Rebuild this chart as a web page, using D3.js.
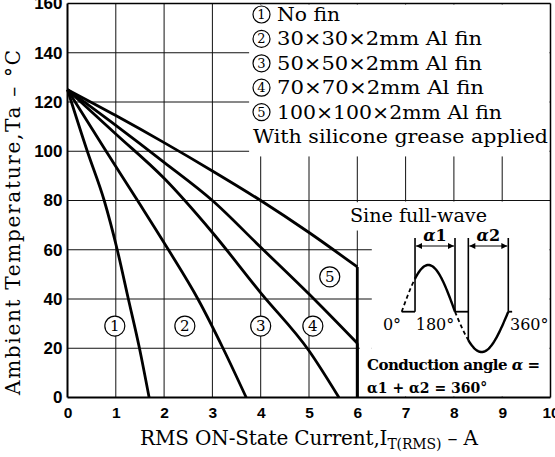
<!DOCTYPE html>
<html><head><meta charset="utf-8">
<script src="https://cdn.jsdelivr.net/npm/d3@7"></script>
<style>body{margin:0;background:#fff}svg{display:block}</style>
</head><body>
<svg id="chart" width="555" height="457"></svg>
<script>
// ---------- data ----------
const xTicks = [0,1,2,3,4,5,6,7,8,9,10];
const yTicks = [0,20,40,60,80,100,120,140,160];
const seriesIds = ["1","2","3","4","5"];
const current1 = [0,0.41,0.76,1.03,1.26,1.49,1.69];
const temp1    = [125,100,80,60,40,20,0];
const current2 = [0,0.8,1.45,2.09,2.7,3.22,3.7];
const temp2    = [125,100,80,60,40,20,0];
const current3 = [0,1,2,3,4,5,5.62];
const temp3    = [125,107,89,67,42.5,19,0];
const current4 = [0,1,2,3,4,5,6,6];
const temp4    = [125,110.5,95.5,80,61,42,22,0];
const current5 = [0,1,2,3,4,5,6,6];
const temp5    = [125,114.5,103.5,92,80,67,53,0];
const labelCurrent = [0.98,2.43,4.0,5.08,5.43];
const labelTemp    = [29,29,29,29,49];
const legendMarks = ["1","2","3","4","5",""];
const legendTexts = ["No fin","30×30×2mm Al fin","50×50×2mm Al fin","70×70×2mm Al fin","100×100×2mm Al fin","With silicone grease applied"];
const legendWidths = [63,205,205,207,225,295];

// ---------- layout ----------
const svg = d3.select("#chart");
const x = d3.scaleLinear([0,10],[67.5,550.5]);
const y = d3.scaleLinear([0,160],[397.5,3.5]);
const serif = "'DejaVu Serif',serif";

// circled-number helper
function circled(sel, cx, cy, r, fs, label){
  const gg = sel.append("g");
  gg.append("circle").attr("cx",cx).attr("cy",cy).attr("r",r).attr("fill","#fff").attr("stroke","#000").attr("stroke-width",1.2);
  gg.append("text").attr("x",cx).attr("y",cy).attr("text-anchor","middle").attr("dominant-baseline","central")
    .attr("font-family",serif).attr("font-size",fs).attr("fill","#000").text(label);
}

// grid
const g = svg.append("g");
g.selectAll(".vg").data(xTicks.slice(1,10)).join("line")
  .attr("x1",d=>x(d)).attr("x2",d=>x(d)).attr("y1",y(0)).attr("y2",y(160))
  .attr("stroke","#111").attr("stroke-width",1);
g.selectAll(".hg").data(yTicks.slice(1,8)).join("line")
  .attr("x1",x(0)).attr("x2",x(10)).attr("y1",d=>y(d)).attr("y2",d=>y(d))
  .attr("stroke","#111").attr("stroke-width",1);

// white panels (legend + inset)
svg.append("rect").attr("x",x(3.76)).attr("y",y(160)+1).attr("width",x(10)-x(3.76)-1).attr("height",y(98.3)-y(160)).attr("fill","#fff");
svg.append("rect").attr("x",x(6.3)).attr("y",y(80)+1).attr("width",x(10)-x(6.3)-1).attr("height",y(0)-y(80)-2).attr("fill","#fff");
svg.append("rect").attr("x",x(5.72)).attr("y",y(79.3)).attr("width",x(6.3)-x(5.72)).attr("height",y(67.8)-y(79.3)).attr("fill","#fff");
svg.append("rect").attr("x",x(6.05)).attr("y",y(23)).attr("width",x(6.3)-x(6.05)).attr("height",y(0.6)-y(23)).attr("fill","#fff");

// frame
svg.append("line").attr("x1",x(0)).attr("x2",x(0)).attr("y1",y(0)).attr("y2",y(160)).attr("stroke","#000").attr("stroke-width",2);
svg.append("line").attr("x1",x(0)).attr("x2",x(10)).attr("y1",y(0)).attr("y2",y(0)).attr("stroke","#000").attr("stroke-width",2);
svg.append("line").attr("x1",x(0)).attr("x2",x(10)).attr("y1",y(160)).attr("y2",y(160)).attr("stroke","#000").attr("stroke-width",1.5);
svg.append("line").attr("x1",x(10)).attr("x2",x(10)).attr("y1",y(0)).attr("y2",y(160)).attr("stroke","#000").attr("stroke-width",1.5);

// axes
const ax = svg.append("g").attr("transform",`translate(0,${y(0)})`)
  .call(d3.axisBottom(x).tickValues(xTicks).tickSize(0).tickPadding(9).tickFormat(d3.format("d")));
ax.select(".domain").remove();
ax.selectAll("text").attr("font-family","'Liberation Sans',Arial,sans-serif").attr("font-weight",700).attr("font-size",15.5).attr("fill","#000");
const ay = svg.append("g").attr("transform",`translate(${x(0)},0)`)
  .call(d3.axisLeft(y).tickValues(yTicks).tickSize(0).tickPadding(5).tickFormat(d3.format("d")));
ay.select(".domain").remove();
ay.selectAll("text").attr("font-family","'Liberation Sans',Arial,sans-serif").attr("font-weight",700).attr("font-size",17).attr("fill","#000");

// axis titles
const xt = svg.append("text").attr("x",140).attr("y",445).attr("font-family",serif).attr("font-size",20).attr("fill","#000")
  .attr("textLength",338).attr("lengthAdjust","spacing");
xt.append("tspan").text("RMS ON-State Current,I");
xt.append("tspan").attr("font-size",14).attr("dy",4).text("T(RMS)");
xt.append("tspan").attr("dy",-4).text(" – A");
svg.append("text").attr("transform","translate(19.5,395) rotate(-90)")
  .attr("font-family",serif).attr("font-size",20).attr("fill","#000")
  .attr("textLength",345).attr("lengthAdjust","spacing")
  .text("Ambient Temperature,Ta – °C");

// curves
const series = [[current1,temp1],[current2,temp2],[current3,temp3],[current4,temp4],[current5,temp5]];
const line = d3.line().x(d=>x(d[0])).y(d=>y(d[1])).curve(d3.curveMonotoneX);
const straight = d3.line().x(d=>x(d[0])).y(d=>y(d[1]));
series.forEach(([cx,ty])=>{
  const pts = cx.map((c,i)=>[c,ty[i]]);
  const n = pts.length;
  const main = (n>1 && pts[n-1][0]===pts[n-2][0]) ? pts.slice(0,n-1) : pts;
  svg.append("path").attr("d",line(main)).attr("fill","none").attr("stroke","#000").attr("stroke-width",2.8);
  if (main.length<n) svg.append("path").attr("d",straight(pts.slice(n-2))).attr("fill","none").attr("stroke","#000").attr("stroke-width",2.8);
});

// curve labels
seriesIds.forEach((id,i)=>circled(svg, x(labelCurrent[i]), y(labelTemp[i]), 10, 15, id));

// legend
legendTexts.forEach((t,i)=>{
  const by = 21+i*24.4;
  if (legendMarks[i]) circled(svg, 261.5, by-6.5, 8.5, 13, legendMarks[i]);
  svg.append("text").attr("x",legendMarks[i]?277:253).attr("y",by).attr("fill","#000")
    .attr("font-family",serif).attr("font-size",18.5)
    .attr("textLength",legendWidths[i]).attr("lengthAdjust","spacingAndGlyphs").text(t);
});

// inset waveform
const a = d3.scaleLinear([0,360],[401.7,508.3]);
const v = d3.scaleLinear([-1,0,1],[352,311.7,265]);
const topY = 238, arrowY = 246;
const ins = svg.append("g").attr("fill","none").attr("stroke","#000");
const sinPts = (a0,a1)=>d3.range(a0,a1+0.01,3).map(t=>[t,Math.sin(t*Math.PI/180)]);
const wl = d3.line().x(d=>a(d[0])).y(d=>v(d[1]));
ins.append("path").attr("d",wl(sinPts(0,45))).attr("stroke-dasharray","4,3").attr("stroke-width",1.8);
ins.append("path").attr("d",wl(sinPts(180,225))).attr("stroke-dasharray","4,3").attr("stroke-width",1.8);
ins.append("path").attr("d",wl(sinPts(45,180))).attr("stroke-width",2.4);
ins.append("path").attr("d",wl(sinPts(225,360))).attr("stroke-width",2.4);
ins.append("path").attr("d",wl([[0,0],[45,0]])).attr("stroke-width",1.8);
ins.append("path").attr("d",wl([[180,0],[225,0]])).attr("stroke-width",1.8);
ins.append("path").attr("d",wl([[360,0],[373,0]])).attr("stroke-width",1.8);
[[45,0],[180,0],[360,0]].forEach(([t,val])=>{
  ins.append("line").attr("x1",a(t)).attr("x2",a(t)).attr("y1",topY).attr("y2",v(val)).attr("stroke-width",1.6);
});
ins.append("line").attr("x1",a(225)).attr("x2",a(225)).attr("y1",topY).attr("y2",v(Math.sin(225*Math.PI/180))).attr("stroke-width",1.6);
const defs = svg.append("defs");
defs.append("marker").attr("id","ah").attr("viewBox","0 0 10 10").attr("refX",10).attr("refY",5)
  .attr("markerWidth",7).attr("markerHeight",6).attr("orient","auto-start-reverse").attr("markerUnits","userSpaceOnUse")
  .append("path").attr("d","M0,0L10,5L0,10z").attr("fill","#000");
[[45,180],[225,360]].forEach(([t0,t1])=>{
  ins.append("line").attr("x1",a(t0)+1).attr("x2",a(t1)-1).attr("y1",arrowY).attr("y2",arrowY)
    .attr("stroke-width",1.2).attr("marker-start","url(#ah)").attr("marker-end","url(#ah)");
});
const it = svg.append("g").attr("font-family",serif).attr("fill","#000");
[["α1",(a(45)+a(180))/2],["α2",(a(225)+a(360))/2]].forEach(([s,cx])=>{
  const t = it.append("text").attr("x",cx).attr("y",241).attr("text-anchor","middle").attr("font-size",16).attr("font-weight",600);
  t.append("tspan").attr("font-style","italic").text(s[0]);
  t.append("tspan").text(s[1]);
});
it.append("text").attr("x",392).attr("y",330).attr("text-anchor","middle").attr("font-size",16).text("0°");
it.append("text").attr("x",435).attr("y",330).attr("text-anchor","middle").attr("font-size",16).text("180°");
it.append("text").attr("x",510).attr("y",330).attr("font-size",16).text("360°");
it.append("text").attr("x",350).attr("y",222).attr("font-size",18).attr("textLength",137).attr("lengthAdjust","spacingAndGlyphs").text("Sine full-wave");
const c1 = it.append("text").attr("x",367).attr("y",370).attr("font-size",15).attr("font-weight",600).attr("textLength",173).attr("lengthAdjust","spacing");
c1.append("tspan").text("Conduction angle ");
c1.append("tspan").attr("font-style","italic").text("α");
c1.append("tspan").text(" =");
it.append("text").attr("x",367).attr("y",393).attr("font-size",14).attr("font-weight",600).text("α1 + α2 = 360°");
</script>
</body></html>
